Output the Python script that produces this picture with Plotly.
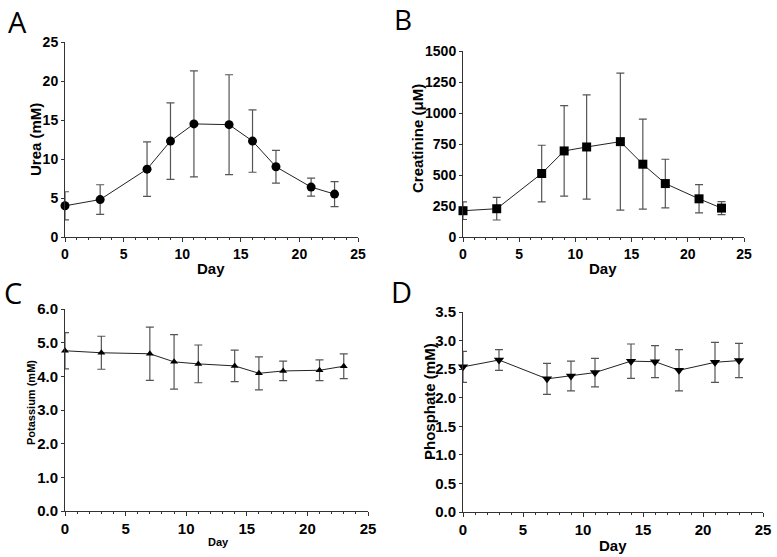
import plotly.graph_objects as go
from plotly.subplots import make_subplots

days = [0, 3, 7, 9, 11, 14, 16, 18, 21, 23]

urea = [4.0, 4.8, 8.7, 12.3, 14.5, 14.4, 12.3, 9.0, 6.4, 5.5]
urea_err = [1.8, 1.9, 3.5, 4.9, 6.8, 6.4, 4.0, 2.1, 1.15, 1.6]

creatinine = [212, 228, 512, 694, 726, 769, 587, 431, 308, 233]
creatinine_err = [71, 91, 228, 365, 420, 553, 363, 196, 114, 53]

potassium = [4.76, 4.70, 4.67, 4.43, 4.37, 4.31, 4.09, 4.16, 4.18, 4.30]
potassium_err = [0.54, 0.49, 0.79, 0.81, 0.56, 0.47, 0.49, 0.29, 0.31, 0.37]

phosphate = [2.54, 2.66, 2.33, 2.38, 2.44, 2.64, 2.63, 2.48, 2.62, 2.65]
phosphate_err = [0.27, 0.18, 0.27, 0.26, 0.25, 0.30, 0.28, 0.36, 0.35, 0.30]

day_ticks = [0, 5, 10, 15, 20, 25]
urea_ticks = [0, 5, 10, 15, 20, 25]
creatinine_ticks = [0, 250, 500, 750, 1000, 1250, 1500]
potassium_ticks = [0.0, 1.0, 2.0, 3.0, 4.0, 5.0, 6.0]
phosphate_ticks = [0.0, 0.5, 1.0, 1.5, 2.0, 2.5, 3.0, 3.5]

W, H = 777, 557
FONT = "Liberation Sans, Arial, sans-serif"


def px(x0, x1):
    return [x0 / W, x1 / W]


def py(y_top, y_bottom):
    return [1 - y_bottom / H, 1 - y_top / H]


def bold(vals, fmt):
    return ["<b>" + format(v, fmt) + "</b>" for v in vals]


fig = make_subplots(rows=2, cols=2)

panels = [
    (1, 1, urea, urea_err, "circle", 9),
    (1, 2, creatinine, creatinine_err, "square", 9),
    (2, 1, potassium, potassium_err, "triangle-up", 7),
    (2, 2, phosphate, phosphate_err, "triangle-down", 9),
]
for row, col, vals, errs, symbol, size in panels:
    fig.add_trace(
        go.Scatter(x=days, y=vals, mode="lines+markers",
                   line=dict(color="#222", width=1),
                   marker=dict(symbol=symbol, size=size, color="black"),
                   error_y=dict(type="data", array=errs, visible=True,
                                color="#555", thickness=1.2, width=4),
                   cliponaxis=False, showlegend=False),
        row=row, col=col,
    )

# axis domains (pixel boxes)
domains = {
    1: (px(65, 358), py(42, 237)),
    2: (px(463, 744), py(51, 237)),
    3: (px(65, 368), py(309, 511)),
    4: (px(463, 763), py(312, 512)),
}
y_setup = {
    1: (urea_ticks, "d", 14),
    2: (creatinine_ticks, "d", 14),
    3: (potassium_ticks, ".1f", 15),
    4: (phosphate_ticks, ".1f", 15),
}
for i in range(1, 5):
    xd, yd = domains[i]
    ticks, fmt, ysize = y_setup[i]
    xname = "xaxis" if i == 1 else "xaxis%d" % i
    yname = "yaxis" if i == 1 else "yaxis%d" % i
    xsize = 15 if i >= 3 else 14
    fig.layout[xname].update(
        domain=xd, range=[0, 25], tickvals=day_ticks, ticktext=bold(day_ticks, "d"),
        showgrid=False, zeroline=False, automargin=False,
        showline=True, linecolor="#333", linewidth=1,
        ticks="outside", ticklen=4, tickcolor="#333",
        minor=dict(dtick=1, ticks="outside", ticklen=2, tickcolor="#333"),
        tickfont=dict(family=FONT, size=xsize, color="black"),
    )
    fig.layout[yname].update(
        domain=yd, range=[ticks[0], ticks[-1]], tickvals=ticks, ticktext=bold(ticks, fmt),
        showgrid=False, zeroline=False, automargin=False,
        showline=True, linecolor="#333", linewidth=1,
        ticks="outside", ticklen=3, tickcolor="#333",
        tickfont=dict(family=FONT, size=ysize, color="black"),
    )

# panel letters and axis titles as annotations in pixel positions
texts = [
    ("A", 17, 21, 29, 0, "normal"),
    ("B", 403, 19, 28, 0, "normal"),
    ("C", 13, 292, 29, 0, "normal"),
    ("D", 401, 291, 29, 0, "normal"),
    ("Urea (mM)", 35, 140, 15, -90, "bold"),
    ("Day", 211, 268, 15, 0, "bold"),
    ("Creatinine (μM)", 418, 138, 15, -90, "bold"),
    ("Day", 603, 268, 15, 0, "bold"),
    ("Potassium (mM)", 31, 403, 11, -90, "bold"),
    ("Day", 218, 542, 11, 0, "bold"),
    ("Phosphate (mM)", 429, 402, 15, -90, "bold"),
    ("Day", 613, 545, 15, 0, "bold"),
]
for text, x, y, size, angle, weight in texts:
    fam = "Open Sans, sans-serif" if weight == "normal" else FONT
    fig.add_annotation(
        text=text, x=x / W, y=1 - y / H, xref="paper", yref="paper",
        xanchor="center", yanchor="middle", showarrow=False, textangle=angle,
        font=dict(family=fam, size=size, color="black", weight=weight),
    )

fig.update_layout(
    width=W, height=H,
    margin=dict(l=0, r=0, t=0, b=0),
    paper_bgcolor="white", plot_bgcolor="white",
)

# drop the browser's default page margin so the figure sits at the window corner
fig.write_html("out.html", config={"displayModeBar": False},
               post_script="document.body.style.margin = '0';")
